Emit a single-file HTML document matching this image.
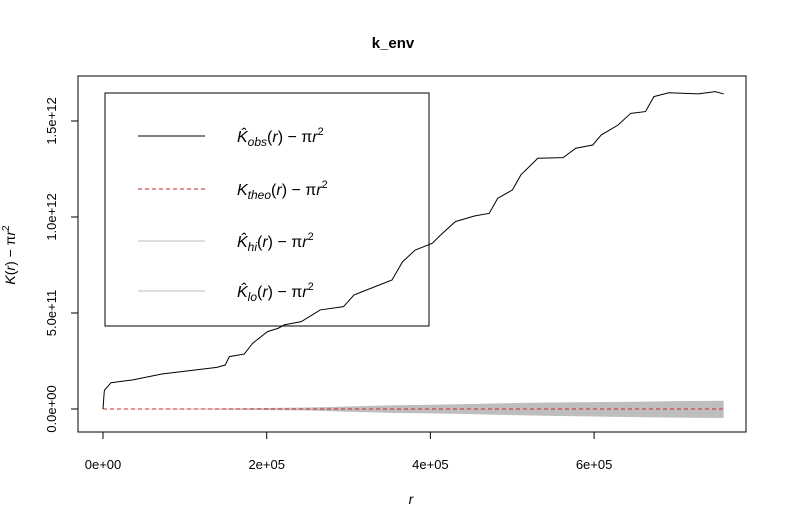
<!DOCTYPE html>
<html><head><meta charset="utf-8"><style>
body{margin:0;background:#fff;}
svg{display:block;font-family:"Liberation Sans",Arial,sans-serif;}
</style></head><body>
<svg width="787" height="529" viewBox="0 0 787 529">
<text x="393" y="48" text-anchor="middle" font-size="15" font-weight="bold">k_env</text>
<rect x="78" y="76" width="668" height="356" fill="none" stroke="#000"/>
<g id="axes"></g>
<text x="411" y="504" text-anchor="middle" font-size="14" font-style="italic">r</text>
<text transform="translate(15,255) rotate(-90)" text-anchor="middle" font-size="14"><tspan font-style="italic">K</tspan>(<tspan font-style="italic">r</tspan>) − π<tspan font-style="italic">r</tspan><tspan dy="-6" font-size="10">2</tspan></text>
<g>
<rect x="105" y="93" width="324" height="233" fill="none" stroke="#000"/>
<line x1="138" y1="136" x2="205" y2="136" stroke="#000"/>
<line x1="138" y1="189" x2="205" y2="189" stroke="#c0282d" stroke-dasharray="4,3"/>
<line x1="138" y1="241" x2="205" y2="241" stroke="#bebebe"/>
<line x1="138" y1="291" x2="205" y2="291" stroke="#bebebe"/>
<text x="237" y="142" font-size="16"><tspan font-style="italic">K̂</tspan><tspan font-style="italic" font-size="12" dy="4">obs</tspan><tspan dy="-4">(</tspan><tspan font-style="italic">r</tspan>) − π<tspan font-style="italic">r</tspan><tspan font-size="11" dy="-7">2</tspan></text>
<text x="237" y="195" font-size="16"><tspan font-style="italic">K</tspan><tspan font-style="italic" font-size="12" dy="4">theo</tspan><tspan dy="-4">(</tspan><tspan font-style="italic">r</tspan>) − π<tspan font-style="italic">r</tspan><tspan font-size="11" dy="-7">2</tspan></text>
<text x="237" y="247" font-size="16"><tspan font-style="italic">K̂</tspan><tspan font-style="italic" font-size="12" dy="4">hi</tspan><tspan dy="-4">(</tspan><tspan font-style="italic">r</tspan>) − π<tspan font-style="italic">r</tspan><tspan font-size="11" dy="-7">2</tspan></text>
<text x="237" y="297" font-size="16"><tspan font-style="italic">K̂</tspan><tspan font-style="italic" font-size="12" dy="4">lo</tspan><tspan dy="-4">(</tspan><tspan font-style="italic">r</tspan>) − π<tspan font-style="italic">r</tspan><tspan font-size="11" dy="-7">2</tspan></text>
</g>
<g id="series"></g>
</svg>
<script>
const obsR=[0,1500,2200,9900,35700,71900,139000,149300,154400,172500,182800,200900,213800,221500,242200,265400,293800,306700,319600,353100,366000,381500,402200,412500,430500,453800,471800,482200,500200,510500,531200,562200,577600,598300,608600,629300,644700,662800,673100,691200,727300,748000,758300];
const obsV=[0,0.9e11,1.0e11,1.37e11,1.51e11,1.82e11,2.17e11,2.29e11,2.73e11,2.86e11,3.42e11,4.03e11,4.2e11,4.38e11,4.55e11,5.16e11,5.33e11,5.94e11,6.16e11,6.72e11,7.67e11,8.28e11,8.63e11,9.06e11,9.76e11,1.005e12,1.019e12,1.097e12,1.141e12,1.219e12,1.306e12,1.309e12,1.358e12,1.375e12,1.427e12,1.479e12,1.54e12,1.549e12,1.627e12,1.647e12,1.641e12,1.653e12,1.641e12];
const envR=[0,100000,200000,250000,300000,350000,400000,450000,500000,550000,600000,650000,700000,758300];
const hiV=[0,0.2e10,0.5e10,0.8e10,1.3e10,1.9e10,2.2e10,2.6e10,3.1e10,3.4e10,3.6e10,3.8e10,4.1e10,4.3e10];
const loV=[0,-0.2e10,-0.5e10,-0.8e10,-1.4e10,-2.0e10,-2.3e10,-2.7e10,-3.2e10,-3.6e10,-3.9e10,-4.2e10,-4.5e10,-4.7e10];
const xTicks=[0,200000,400000,600000];
const xTickLabels=["0e+00","2e+05","4e+05","6e+05"];
const yTicks=[0,5e11,1e12,1.5e12];
const yTickLabels=["0.0e+00","5.0e+11","1.0e+12","1.5e+12"];
const NS="http://www.w3.org/2000/svg";
function xs(r){return 103+r/200000*163.7;}
function ys(v){return 409-v/5e11*96;}
function mk(t,a,p){const e=document.createElementNS(NS,t);for(const k in a)e.setAttribute(k,a[k]);p.appendChild(e);return e;}
const ax=document.getElementById('axes'),se=document.getElementById('series');
xTicks.forEach((t,i)=>{
 const l=mk('line',{x1:xs(t),x2:xs(t),y1:432,y2:439,stroke:'#000'},ax);
 
 
 const tx=mk('text',{x:xs(t),y:469,'text-anchor':'middle','font-size':13},ax);tx.textContent=xTickLabels[i];
 
 
});
yTicks.forEach((t,i)=>{
 const l=mk('line',{x1:71,x2:78,y1:ys(t),y2:ys(t),stroke:'#000'},ax);
 
 
 const tx=mk('text',{x:0,y:0,'text-anchor':'middle','font-size':13,transform:`translate(56,${ys(t)}) rotate(-90)`},ax);tx.textContent=yTickLabels[i];
 
 
});
let d='';envR.forEach((r,i)=>d+=(i?'L':'M')+xs(r)+','+ys(hiV[i]));
for(let i=envR.length-1;i>=0;i--)d+='L'+xs(envR[i])+','+ys(loV[i]);
const band=mk('path',{d:d+'Z',fill:'#bebebe'},se);


const th=mk('line',{x1:xs(0),x2:xs(envR[envR.length-1]),y1:ys(0),y2:ys(0),stroke:'#d62728','stroke-dasharray':'4,3'},se);


const ob=mk('polyline',{points:obsR.map((r,i)=>xs(r)+','+ys(obsV[i])).join(' '),fill:'none',stroke:'#000','stroke-width':1},se);


</script>
</body></html>
